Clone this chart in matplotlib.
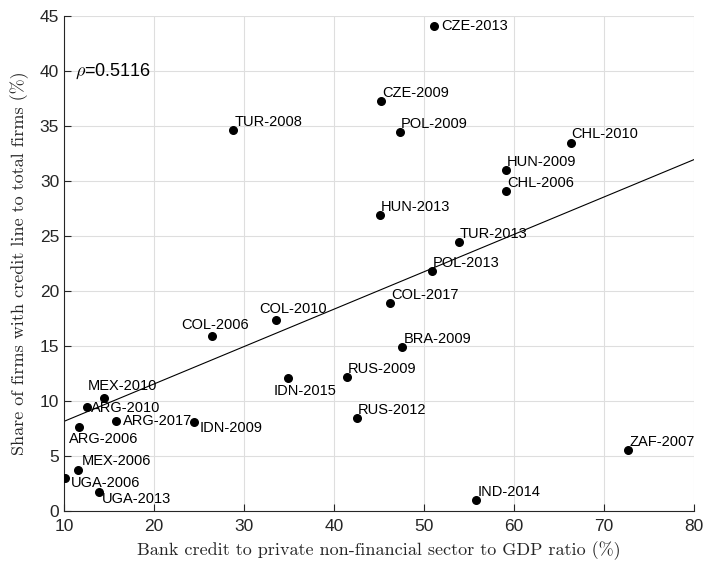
import numpy as np
import matplotlib
matplotlib.use("Agg")
import matplotlib.pyplot as plt

plt.rcParams['font.family'] = ['Liberation Sans', 'DejaVu Sans']
plt.rcParams['mathtext.fontset'] = 'cm'

# bank credit ratio (%) vs share of firms with a credit line (%)
labels = ['CZE-2013', 'CZE-2009', 'POL-2009', 'CHL-2010', 'HUN-2009', 'CHL-2006',
          'TUR-2008', 'HUN-2013', 'TUR-2013', 'POL-2013', 'COL-2017', 'COL-2010',
          'COL-2006', 'BRA-2009', 'RUS-2009', 'IDN-2015', 'MEX-2010', 'ARG-2010',
          'ARG-2017', 'IDN-2009', 'ARG-2006', 'MEX-2006', 'UGA-2006', 'UGA-2013',
          'RUS-2012', 'ZAF-2007', 'IND-2014']
credit = [51.15, 45.2, 47.3, 66.3, 59.1, 59.1,
          28.8, 45.1, 53.9, 50.9, 46.2, 33.6,
          26.4, 47.6, 41.4, 34.9, 14.4, 12.5,
          15.8, 24.4, 11.7, 11.5, 10.15, 13.9,
          42.5, 72.7, 55.8]
share = [44.1, 37.3, 34.45, 33.5, 30.97, 29.1,
         34.6, 26.9, 24.5, 21.8, 18.9, 17.4,
         15.9, 14.9, 12.2, 12.1, 10.3, 9.5,
         8.15, 8.1, 7.6, 3.75, 2.97, 1.73,
         8.5, 5.55, 1.0]

# label offsets in pixels (right, up)
offsets = {
    'CZE-2013': (7, 0), 'COL-2010': (-17, 11), 'COL-2006': (-30, 11),
    'IDN-2015': (-14, -13), 'MEX-2010': (-16, 12), 'ARG-2010': (4, -2),
    'ARG-2017': (7, 0), 'IDN-2009': (6, -6), 'ARG-2006': (-10, -12),
    'MEX-2006': (4, 9), 'UGA-2006': (6, -5), 'UGA-2013': (3, -7),
}

x = np.array(credit)
y = np.array(share)
slope, intercept = np.polyfit(x, y, 1)
xl = np.array([10, 80])

fig = plt.figure(figsize=(7.04, 5.65), dpi=100)
ax = fig.add_axes([64/704, 1-511/565, 630/704, 495/565])

ax.plot(xl, slope*xl + intercept, color='black', lw=0.8, zorder=2)
ax.scatter(x, y, s=30, color='black', zorder=3)

for lab, xi, yi in zip(labels, credit, share):
    dx, dy = offsets.get(lab, (1, 8))
    ax.annotate(lab, (xi, yi), xytext=(dx, dy), textcoords='offset pixels',
                ha='left', va='center', fontsize=10.5, color='black')

ax.text(11.2, 40, r'$\rho$=0.5116', fontsize=13, ha='left', va='center')

ax.set_xlim(10, 80)
ax.set_ylim(0, 45)
ax.set_xticks(range(10, 81, 10))
ax.set_yticks(range(0, 46, 5))
ax.grid(True, color='#dedede', lw=0.8)
ax.set_axisbelow(True)
for s in ['top', 'right']:
    ax.spines[s].set_visible(False)
for s in ['left', 'bottom']:
    ax.spines[s].set_color('#262626')
    ax.spines[s].set_linewidth(0.8)
ax.tick_params(direction='in', length=5, width=0.8, colors='#262626',
               labelsize=12.5, labelcolor='#262626')
ax.tick_params(axis='x', pad=6)

ax.set_xlabel('Bank credit to private non-financial sector to GDP ratio (%)',
              fontfamily='cmr10', fontsize=13, color='#262626', labelpad=5)
ax.set_ylabel('Share of firms with credit line to total firms (%)',
              fontfamily='cmr10', fontsize=13, color='#262626', labelpad=8)

fig.savefig('out.png', dpi=100)
